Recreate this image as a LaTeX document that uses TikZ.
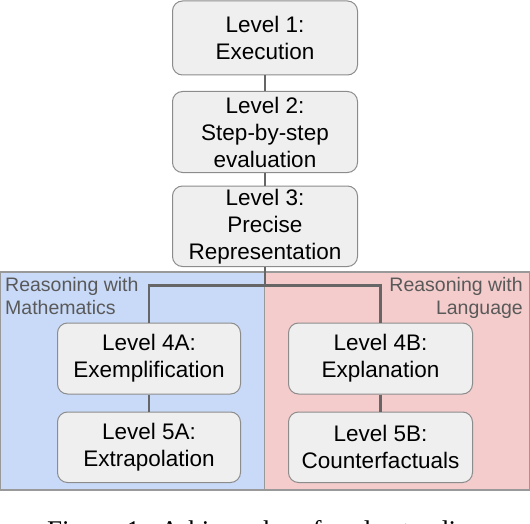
\documentclass[tikz,border=0pt]{standalone}
\usepackage{fontspec}
\setmainfont{Liberation Sans}
\newfontfamily\capfont{Liberation Serif}
\definecolor{boxfill}{HTML}{EFEFEF}
\definecolor{boxline}{HTML}{8C8C8C}
\definecolor{connc}{HTML}{666666}
\definecolor{panelline}{HTML}{999999}
\definecolor{mathfill}{HTML}{C9DAF8}
\definecolor{langfill}{HTML}{F4CCCC}
\definecolor{labelc}{HTML}{595959}
\begin{document}
\begin{tikzpicture}[x=1pt,y=-1pt,
  lvl/.style={draw=boxline, fill=boxfill, rounded corners=10pt, line width=1pt,
    align=center, font=\fontsize{22.5}{27}\selectfont, inner sep=0pt},
  conn/.style={draw=connc, line width=2.5pt},
  panel/.style={draw=panelline, line width=1.3pt, inner sep=0pt},
  plabel/.style={text=labelc, font=\fontsize{19.5}{23.5}\selectfont, inner sep=0pt}]
\useasboundingbox (0,0) rectangle (530,524);
\clip (0,0) rectangle (530,524);
% panels
\node[panel, fill=mathfill, minimum width=264pt, minimum height=218pt] (pm) at (132.5,381) {};
\node[panel, fill=langfill, minimum width=265pt, minimum height=218pt] (pl) at (397,381) {};
\node[plabel, anchor=base west, align=left] (lm) at (5,314.5) {Reasoning with\\Mathematics};
\node[plabel, anchor=base east, align=right] (ll) at (523,314.5) {Reasoning with\\Language};
% boxes
\node[lvl, minimum width=185pt, minimum height=74pt] (l1) at (265,38) {Level 1:\\Execution};
\node[lvl, minimum width=185pt, minimum height=81pt] (l2) at (265,132) {Level 2:\\Step-by-step\\evaluation};
\node[lvl, minimum width=185pt, minimum height=80.5pt] (l3) at (265,226.25) {Level 3:\\Precise\\Representation};
\node[lvl, minimum width=183pt, minimum height=71pt] (l4a) at (149,358.5) {Level 4A:\\Exemplification};
\node[lvl, minimum width=183pt, minimum height=70.5pt] (l5a) at (149,447.25) {Level 5A:\\Extrapolation};
\node[lvl, minimum width=184pt, minimum height=71pt] (l4b) at (380.5,358.5) {Level 4B:\\Explanation};
\node[lvl, minimum width=184pt, minimum height=70.5pt] (l5b) at (380.5,447.25) {Level 5B:\\Counterfactuals};
% connectors
\coordinate (j) at (265,285.5);
\draw[conn] (l1.south) -- (l2.north);
\draw[conn] (l2.south) -- (l3.north);
\draw[conn] (l3.south) -- (j);
\draw[conn] (l4a.north) |- (j) -| (l4b.north);
\draw[conn] (l4a.south) -- (l5a.north);
\draw[conn] (l4b.south) -- (l5b.north);
% caption (cut off by the frame)
\node[anchor=base west, inner sep=0pt, font=\capfont\fontsize{27}{32}\selectfont] (cap) at (47,539.5)
  {\makebox[436pt][s]{Figure 1: A hierarchy of understanding}};
\end{tikzpicture}
\end{document}
